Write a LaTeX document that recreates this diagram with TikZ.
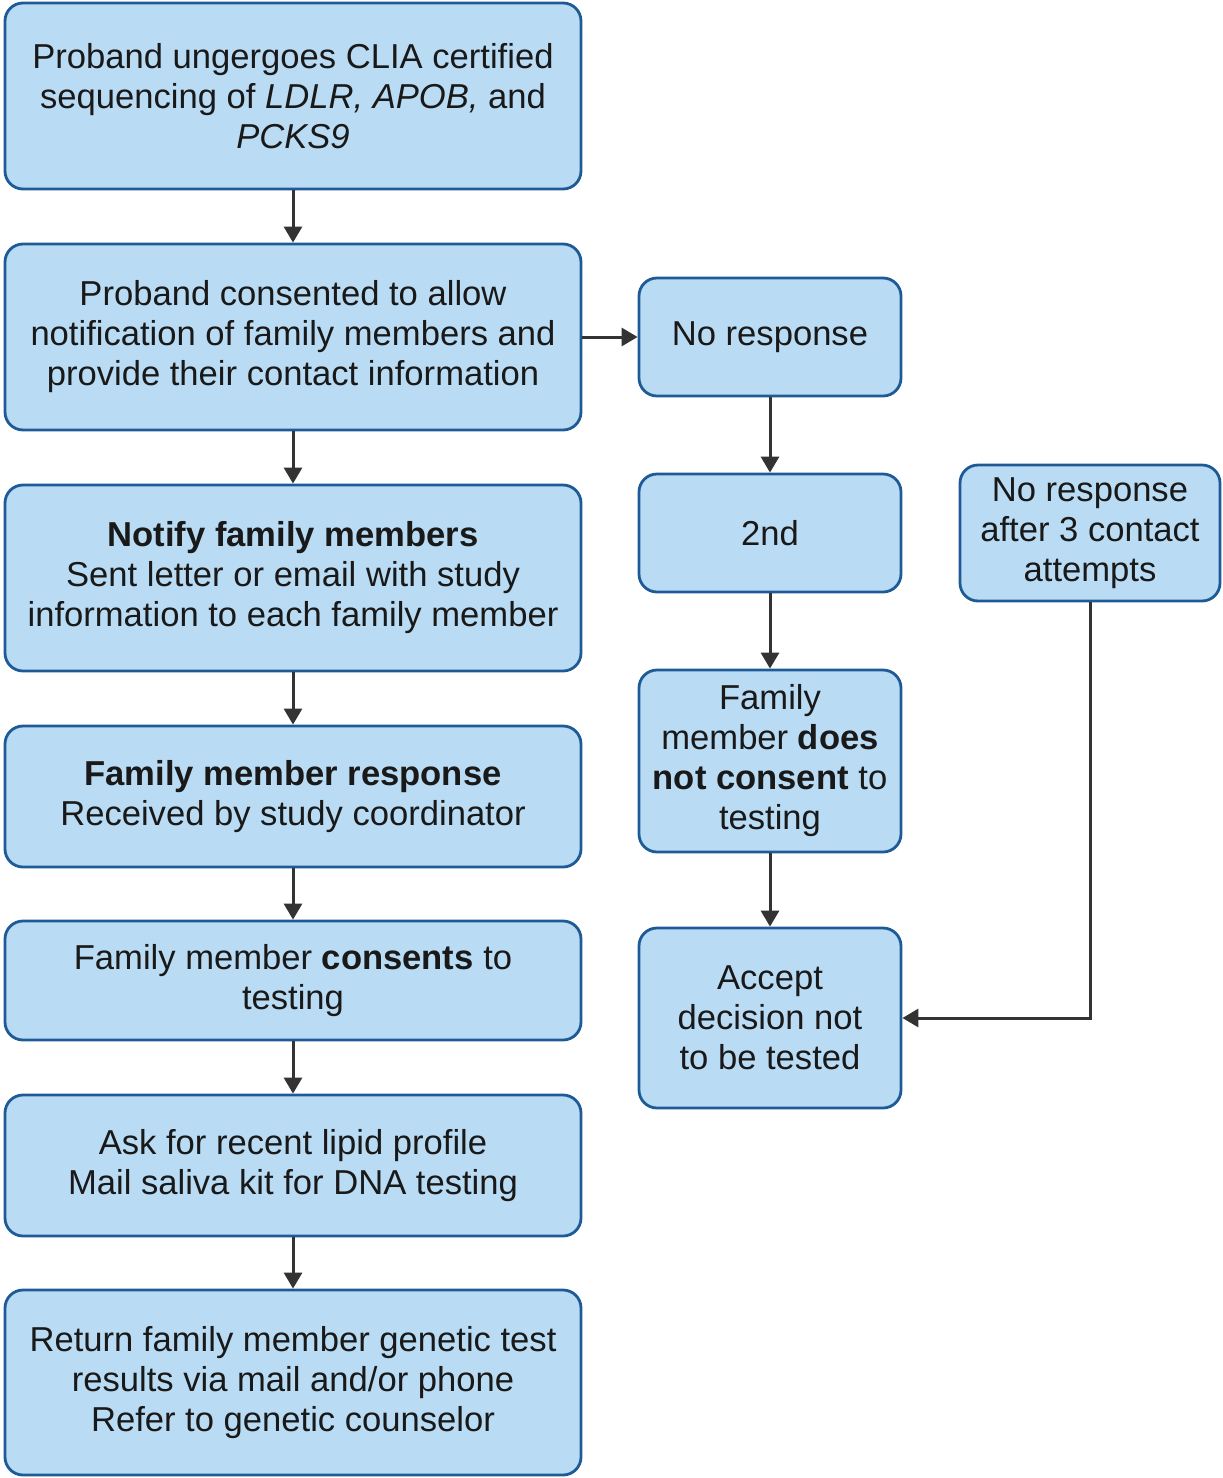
\documentclass[tikz,border=0pt]{standalone}
\usepackage{fontspec}
\setmainfont{Liberation Sans}
\usetikzlibrary{arrows.meta}
\definecolor{boxfill}{HTML}{B9DCF4}
\definecolor{boxline}{HTML}{1D5A96}
\definecolor{arr}{HTML}{333333}
\begin{document}
\begin{tikzpicture}[x=1pt,y=1pt,
  box/.style={draw=boxline, fill=boxfill, line width=1.4pt, rounded corners=9pt,
    align=center, inner sep=0pt, font=\fontsize{17.3}{20}\selectfont, text=black!90},
  lbox/.style={box, minimum width=288pt},
  rbox/.style={box, minimum width=131pt},
  conn/.style={draw=arr, line width=1.5pt, -{Triangle[length=8pt,width=9pt]}}]
\useasboundingbox (0,0) rectangle (611,-739);
\node[lbox, minimum height=93pt] (b1) at (146.5,-48) {Proband ungergoes CLIA certified\\sequencing of \textit{LDLR, APOB,} and\\\textit{PCKS9}};
\node[lbox, minimum height=93pt] (b2) at (146.5,-168.5) {Proband consented to allow\\notification of family members and\\provide their contact information};
\node[lbox, minimum height=93pt] (b3) at (146.5,-289) {\textbf{Notify family members}\\Sent letter or email with study\\information to each family member};
\node[lbox, minimum height=70.5pt] (b4) at (146.5,-398.25) {\textbf{Family member response}\\Received by study coordinator};
\node[lbox, minimum height=59.5pt] (b5) at (146.5,-490.25) {Family member \textbf{consents} to\\testing};
\node[lbox, minimum height=70.5pt] (b6) at (146.5,-582.75) {Ask for recent lipid profile\\Mail saliva kit for DNA testing};
\node[lbox, minimum height=92.5pt] (b7) at (146.5,-691.25) {Return family member genetic test\\results via mail and/or phone\\Refer to genetic counselor};
\node[rbox, minimum height=59pt] (r1) at (385,-168.5) {No response};
\node[rbox, minimum height=59pt] (r2) at (385,-266.5) {2nd};
\node[rbox, minimum height=91pt] (r3) at (385,-380.5) {Family\\member \textbf{does}\\\textbf{not consent} to\\testing};
\node[rbox, minimum height=90pt] (r4) at (385,-509) {Accept\\decision not\\to be tested};
\node[box, minimum width=130pt, minimum height=68pt] (fr) at (545,-266.5) {No response\\after 3 contact\\attempts};
\draw[conn] (b1) -- (b2);
\draw[conn] (b2) -- (b3);
\draw[conn] (b3) -- (b4);
\draw[conn] (b4) -- (b5);
\draw[conn] (b5) -- (b6);
\draw[conn] (b6) -- (b7);
\draw[conn] (b2) -- (r1);
\draw[conn] (r1) -- (r2);
\draw[conn] (r2) -- (r3);
\draw[conn] (r3) -- (r4);
\draw[conn] (fr.south) |- (r4.east);
\end{tikzpicture}
\end{document}
